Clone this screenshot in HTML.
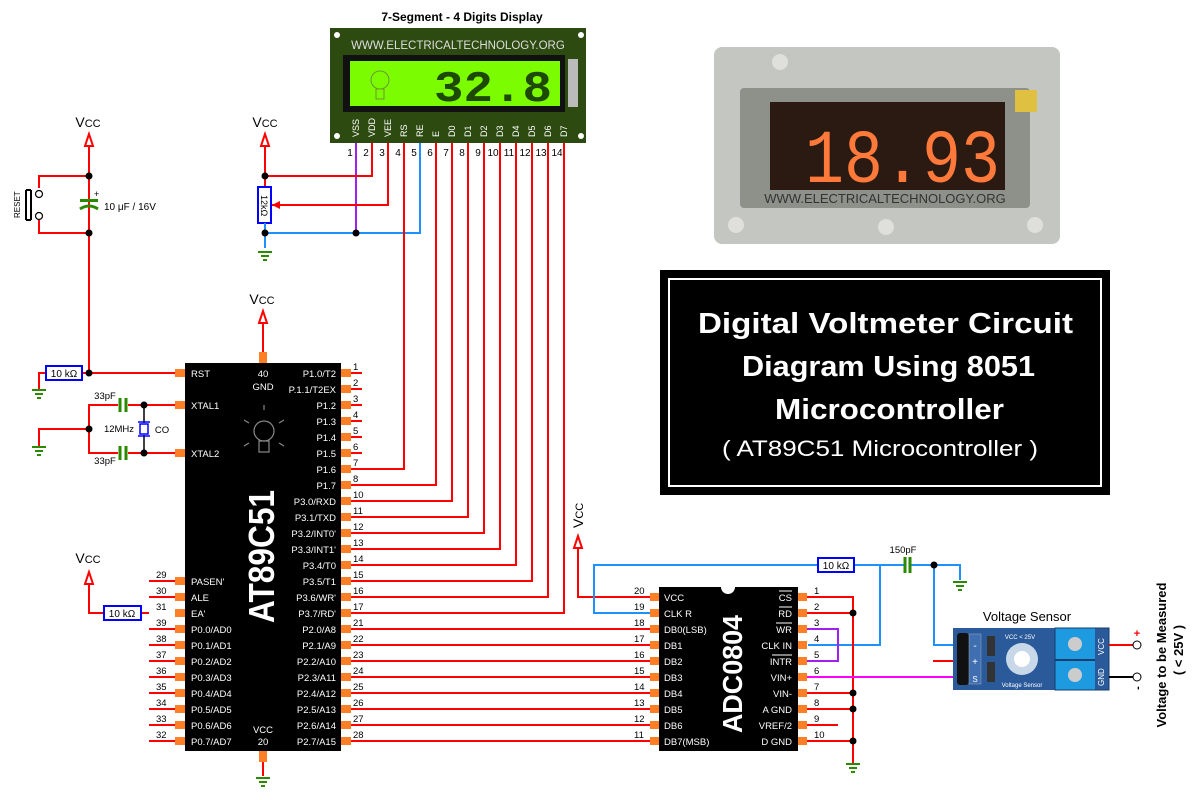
<!DOCTYPE html>
<html><head><meta charset="utf-8"><style>
html,body{margin:0;padding:0;background:#fff;width:1200px;height:800px;overflow:hidden}
svg{display:block;font-family:"Liberation Sans",sans-serif}
</style></head><body>
<svg width="1200" height="800" viewBox="0 0 1200 800" xmlns="http://www.w3.org/2000/svg">
<defs>
<g id="gnd"><line x1="-7" y1="0" x2="7" y2="0" stroke="#2a8a00" stroke-width="2"/><line x1="-4" y1="4" x2="4" y2="4" stroke="#2a8a00" stroke-width="2"/><line x1="-2" y1="8" x2="2" y2="8" stroke="#2a8a00" stroke-width="2"/></g>
<g id="vup"><path d="M0,0 L-4,12 L4,12 Z" fill="#fff" stroke="#f00" stroke-width="2"/></g>
</defs>

<!-- ===== LCD module ===== -->
<text x="462" y="21" font-size="12" font-weight="bold" text-anchor="middle">7-Segment - 4 Digits Display</text>
<rect x="330" y="28" width="256" height="115" fill="#2d4a10"/>
<circle cx="337" cy="35" r="3" fill="#fff"/><circle cx="581" cy="35" r="3" fill="#fff"/>
<circle cx="337" cy="136" r="3" fill="#fff"/><circle cx="581" cy="136" r="3" fill="#fff"/>
<text x="458" y="49" font-size="11.5" fill="#ddd" text-anchor="middle">WWW.ELECTRICALTECHNOLOGY.ORG</text>
<rect x="343" y="55" width="222" height="57" fill="#111"/>
<rect x="350" y="61" width="210" height="45" fill="#7cfc00"/>
<rect x="568" y="59" width="10" height="48" fill="#bbb"/>
<text x="434" y="101" font-size="44" font-weight="bold" fill="#1d4a00" font-family="Liberation Mono,monospace" textLength="118" lengthAdjust="spacingAndGlyphs">32.8</text>
<circle cx="380" cy="80" r="9" fill="none" stroke="#6a9a30"/><rect x="376" y="89" width="8" height="10" fill="none" stroke="#6a9a30"/>
<g font-size="9" fill="#fff">
<text transform="translate(359,137) rotate(-90)">VSS</text><text transform="translate(375,137) rotate(-90)">VDD</text>
<text transform="translate(391,137) rotate(-90)">VEE</text><text transform="translate(407,137) rotate(-90)">RS</text>
<text transform="translate(423,137) rotate(-90)">RE</text><text transform="translate(439,137) rotate(-90)">E</text>
<text transform="translate(455,137) rotate(-90)">D0</text><text transform="translate(471,137) rotate(-90)">D1</text>
<text transform="translate(487,137) rotate(-90)">D2</text><text transform="translate(503,137) rotate(-90)">D3</text>
<text transform="translate(519,137) rotate(-90)">D4</text><text transform="translate(535,137) rotate(-90)">D5</text>
<text transform="translate(551,137) rotate(-90)">D6</text><text transform="translate(567,137) rotate(-90)">D7</text>
</g>
<g font-size="10" text-anchor="middle">
<text x="350" y="156">1</text><text x="366" y="156">2</text><text x="382" y="156">3</text><text x="398" y="156">4</text><text x="414" y="156">5</text><text x="430" y="156">6</text><text x="446" y="156">7</text><text x="462" y="156">8</text><text x="478" y="156">9</text><text x="493" y="156">10</text><text x="509" y="156">11</text><text x="525" y="156">12</text><text x="541" y="156">13</text><text x="557" y="156">14</text>
</g>

<!-- LCD wires -->
<g fill="none" stroke-width="2">
<path d="M356,143 V233" stroke="#a020f0"/>
<path d="M372,143 V176 H265" stroke="#f00"/>
<path d="M388,143 V205 H272" stroke="#f00"/>
<path d="M420,143 V233 H265" stroke="#1e90ff"/>
<path d="M404,143 V469 H362" stroke="#f00"/>
<path d="M436,143 V485 H362" stroke="#f00"/>
<path d="M452,143 V501 H362" stroke="#f00"/>
<path d="M468,143 V517 H362" stroke="#f00"/>
<path d="M484,143 V533 H362" stroke="#f00"/>
<path d="M500,143 V549 H362" stroke="#f00"/>
<path d="M516,143 V565 H362" stroke="#f00"/>
<path d="M532,143 V581 H362" stroke="#f00"/>
<path d="M548,143 V597 H362" stroke="#f00"/>
<path d="M564,143 V613 H362" stroke="#f00"/>
</g>
<circle cx="356" cy="233" r="3.5" fill="#000"/>

<!-- pot section -->
<text x="265" y="127" font-size="14" text-anchor="middle">V<tspan font-size="11">CC</tspan></text>
<use href="#vup" x="265" y="134"/>
<path d="M265,146 V187" stroke="#f00" stroke-width="2"/>
<circle cx="265" cy="176" r="3.5" fill="#000"/>
<rect x="258" y="187" width="13" height="36" fill="#fff" stroke="#00f" stroke-width="2"/>
<text transform="translate(261,195) rotate(90)" font-size="9">12kΩ</text>
<path d="M272,205 l8,-4 v8 z" fill="#f00"/>
<path d="M265,223 V248" stroke="#1e90ff" stroke-width="2"/>
<circle cx="265" cy="233" r="3.5" fill="#000"/>
<use href="#gnd" x="265" y="252"/>

<!-- reset section -->
<text x="88" y="127" font-size="14" text-anchor="middle">V<tspan font-size="11">CC</tspan></text>
<use href="#vup" x="89" y="134"/>
<path d="M89,146 V373 H175" stroke="#f00" stroke-width="2" fill="none"/>
<path d="M89,176 H39 V188 M39,220 V233 H89" stroke="#f00" stroke-width="2" fill="none"/>
<circle cx="89" cy="176" r="3.5" fill="#000"/><circle cx="89" cy="233" r="3.5" fill="#000"/>
<circle cx="39" cy="194" r="3.5" fill="#fff" stroke="#000" stroke-width="1.2"/><circle cx="39" cy="216" r="3.5" fill="#fff" stroke="#000" stroke-width="1.2"/>
<path d="M31,190 V220 M26,190 H31 M26,220 H31 M26,190 V220" stroke="#000" stroke-width="2"/>
<text transform="translate(20,218) rotate(-90)" font-size="8">RESET</text>
<rect x="80" y="199" width="18" height="3" fill="#2a8a00"/>
<path d="M80,209 Q89,203 98,209" stroke="#2a8a00" stroke-width="3" fill="none"/>
<text x="94" y="197" font-size="9">+</text>
<text x="104" y="210" font-size="10">10 μF / 16V</text>

<!-- RST resistor -->
<path d="M39,390 V373 H89" stroke="#f00" stroke-width="2" fill="none"/>
<rect x="46" y="366" width="36" height="14" fill="#fff" stroke="#00f" stroke-width="2"/>
<text x="64" y="377" font-size="10" text-anchor="middle">10 kΩ</text>
<circle cx="89" cy="373" r="3.5" fill="#000"/>
<use href="#gnd" x="39" y="390"/>

<!-- crystal -->
<path d="M175,405 H89 V453 H175 M89,429 H39 V447" stroke="#f00" stroke-width="2" fill="none"/>
<rect x="118" y="398" width="10" height="14" fill="#fff"/><rect x="118" y="446" width="10" height="14" fill="#fff"/>
<path d="M120,398 V412 M126,398 V412 M120,446 V460 M126,446 V460" stroke="#2a8a00" stroke-width="3"/>
<path d="M144,405 V423 M144,435 V453" stroke="#000" stroke-width="1.5"/>
<rect x="140" y="424" width="8" height="10" fill="#fff" stroke="#00f" stroke-width="1.5"/>
<path d="M138,422 H150 M138,436 H150" stroke="#00f" stroke-width="1.5"/>
<circle cx="144" cy="405" r="3.5" fill="#000"/><circle cx="144" cy="453" r="3.5" fill="#000"/><circle cx="89" cy="429" r="3.5" fill="#000"/>
<use href="#gnd" x="39" y="447"/>
<text x="105" y="399" font-size="9.5" text-anchor="middle">33pF</text>
<text x="105" y="464" font-size="9.5" text-anchor="middle">33pF</text>
<text x="119" y="432" font-size="9.5" text-anchor="middle">12MHz</text>
<text x="162" y="433" font-size="9.5" text-anchor="middle">CO</text>

<!-- EA -->
<text x="88" y="563" font-size="14" text-anchor="middle">V<tspan font-size="11">CC</tspan></text>
<use href="#vup" x="89" y="572"/>
<path d="M89,584 V613 H149" stroke="#f00" stroke-width="2" fill="none"/>
<rect x="104" y="606" width="37" height="14" fill="#fff" stroke="#00f" stroke-width="2"/>
<text x="122" y="617" font-size="10" text-anchor="middle">10 kΩ</text>

<!-- MCU -->
<text x="262" y="304" font-size="14" text-anchor="middle">V<tspan font-size="11">CC</tspan></text>
<use href="#vup" x="263" y="311"/>
<path d="M263,323 V352" stroke="#f00" stroke-width="2"/>
<rect x="259" y="352" width="8" height="11" fill="#ff7f27"/>
<rect x="185" y="363" width="156" height="388" fill="#000"/>
<rect x="259" y="751" width="8" height="11" fill="#ff7f27"/>
<path d="M263,762 V776" stroke="#f00" stroke-width="2"/>
<use href="#gnd" x="263" y="778"/>
<g fill="#fff" font-size="9.5">
<text x="263" y="377" text-anchor="middle">40</text><text x="263" y="390" text-anchor="middle">GND</text>
<text x="263" y="733" text-anchor="middle">VCC</text><text x="263" y="745" text-anchor="middle">20</text>
<text transform="translate(274,623) rotate(-90)" font-size="36" font-weight="bold" textLength="133" lengthAdjust="spacingAndGlyphs">AT89C51</text>
</g>
<g stroke="#888" fill="none" stroke-width="1.2"><circle cx="264" cy="431" r="10"/><rect x="259" y="441" width="10" height="11"/><path d="M264,410 v-5 M249,423 l-5,-3 M279,423 l5,-3 M249,443 l-5,3 M279,443 l5,3"/></g>

<!-- MCU right pins -->
<g fill="#ff7f27">
<rect x="341" y="369" width="10" height="8"/><rect x="341" y="385" width="10" height="8"/><rect x="341" y="401" width="10" height="8"/><rect x="341" y="417" width="10" height="8"/><rect x="341" y="433" width="10" height="8"/><rect x="341" y="449" width="10" height="8"/><rect x="341" y="465" width="10" height="8"/><rect x="341" y="481" width="10" height="8"/><rect x="341" y="497" width="10" height="8"/><rect x="341" y="513" width="10" height="8"/><rect x="341" y="529" width="10" height="8"/><rect x="341" y="545" width="10" height="8"/><rect x="341" y="561" width="10" height="8"/><rect x="341" y="577" width="10" height="8"/><rect x="341" y="593" width="10" height="8"/><rect x="341" y="609" width="10" height="8"/><rect x="341" y="625" width="10" height="8"/><rect x="341" y="641" width="10" height="8"/><rect x="341" y="657" width="10" height="8"/><rect x="341" y="673" width="10" height="8"/><rect x="341" y="689" width="10" height="8"/><rect x="341" y="705" width="10" height="8"/><rect x="341" y="721" width="10" height="8"/><rect x="341" y="737" width="10" height="8"/>
<rect x="175" y="369" width="10" height="8"/><rect x="175" y="401" width="10" height="8"/><rect x="175" y="449" width="10" height="8"/>
<rect x="175" y="577" width="10" height="8"/><rect x="175" y="593" width="10" height="8"/><rect x="175" y="609" width="10" height="8"/><rect x="175" y="625" width="10" height="8"/><rect x="175" y="641" width="10" height="8"/><rect x="175" y="657" width="10" height="8"/><rect x="175" y="673" width="10" height="8"/><rect x="175" y="689" width="10" height="8"/><rect x="175" y="705" width="10" height="8"/><rect x="175" y="721" width="10" height="8"/><rect x="175" y="737" width="10" height="8"/>
</g>
<g stroke="#f00" stroke-width="2">
<path d="M351,373 H362 M351,389 H362 M351,405 H362 M351,421 H362 M351,437 H362 M351,453 H362 M351,469 H362 M351,485 H362 M351,501 H362 M351,517 H362 M351,533 H362 M351,549 H362 M351,565 H362 M351,581 H362 M351,597 H362 M351,613 H362"/>
<path d="M351,629 H650 M351,645 H650 M351,661 H650 M351,677 H650 M351,693 H650 M351,709 H650 M351,725 H650 M351,741 H650"/>
<path d="M149,581 H175 M149,597 H175 M149,629 H175 M149,645 H175 M149,661 H175 M149,677 H175 M149,693 H175 M149,709 H175 M149,725 H175 M149,741 H175"/>
</g>
<g fill="#fff" font-size="9.5" text-anchor="end">
<text x="336" y="377">P1.0/T2</text><text x="336" y="393">P.1.1/T2EX</text><text x="336" y="409">P1.2</text><text x="336" y="425">P1.3</text><text x="336" y="441">P1.4</text><text x="336" y="457">P1.5</text><text x="336" y="473">P1.6</text><text x="336" y="489">P1.7</text><text x="336" y="505">P3.0/RXD</text><text x="336" y="521">P3.1/TXD</text><text x="336" y="537">P3.2/INT0'</text><text x="336" y="553">P3.3/INT1'</text><text x="336" y="569">P3.4/T0</text><text x="336" y="585">P3.5/T1</text><text x="336" y="601">P3.6/WR'</text><text x="336" y="617">P3.7/RD'</text><text x="336" y="633">P2.0/A8</text><text x="336" y="649">P2.1/A9</text><text x="336" y="665">P2.2/A10</text><text x="336" y="681">P2.3/A11</text><text x="336" y="697">P2.4/A12</text><text x="336" y="713">P2.5/A13</text><text x="336" y="729">P2.6/A14</text><text x="336" y="745">P2.7/A15</text>
</g>
<g fill="#fff" font-size="9.5">
<text x="191" y="377">RST</text><text x="191" y="409">XTAL1</text><text x="191" y="457">XTAL2</text>
<text x="191" y="585">PASEN'</text><text x="191" y="601">ALE</text><text x="191" y="617">EA'</text><text x="191" y="633">P0.0/AD0</text><text x="191" y="649">P0.1/AD1</text><text x="191" y="665">P0.2/AD2</text><text x="191" y="681">P0.3/AD3</text><text x="191" y="697">P0.4/AD4</text><text x="191" y="713">P0.5/AD5</text><text x="191" y="729">P0.6/AD6</text><text x="191" y="745">P0.7/AD7</text>
</g>
<g font-size="9.5">
<text x="353" y="370">1</text><text x="353" y="386">2</text><text x="353" y="402">3</text><text x="353" y="418">4</text><text x="353" y="434">5</text><text x="353" y="450">6</text><text x="353" y="466">7</text><text x="353" y="482">8</text><text x="353" y="498">10</text><text x="353" y="514">11</text><text x="353" y="530">12</text><text x="353" y="546">13</text><text x="353" y="562">14</text><text x="353" y="578">15</text><text x="353" y="594">16</text><text x="353" y="610">17</text><text x="353" y="626">21</text><text x="353" y="642">22</text><text x="353" y="658">23</text><text x="353" y="674">24</text><text x="353" y="690">25</text><text x="353" y="706">26</text><text x="353" y="722">27</text><text x="353" y="738">28</text>
<text x="156" y="578">29</text><text x="156" y="594">30</text><text x="156" y="610">31</text><text x="156" y="626">39</text><text x="156" y="642">38</text><text x="156" y="658">37</text><text x="156" y="674">36</text><text x="156" y="690">35</text><text x="156" y="706">34</text><text x="156" y="722">33</text><text x="156" y="738">32</text>
</g>

<!-- ===== ADC ===== -->
<text transform="translate(583,528) rotate(-90)" font-size="14">V<tspan font-size="11">CC</tspan></text>
<path d="M578,536 l-4,12 h8 z" fill="#fff" stroke="#f00" stroke-width="2"/>
<path d="M578,548 V597 H650" stroke="#f00" stroke-width="2" fill="none"/>
<path d="M650,613 H594 V565 H818 M854,565 H904 M910,565 H960 V580 M880,565 V645 H808 M934,565 V645 H953" stroke="#1e90ff" stroke-width="2" fill="none"/>
<rect x="818" y="558" width="36" height="14" fill="#fff" stroke="#00f" stroke-width="2"/>
<text x="836" y="569" font-size="10" text-anchor="middle">10 kΩ</text>
<path d="M905,557 V573 M910,557 V573" stroke="#2a8a00" stroke-width="3"/>
<text x="903" y="553" font-size="9.5" text-anchor="middle">150pF</text>
<circle cx="934" cy="565" r="3.5" fill="#000"/>
<use href="#gnd" x="960" y="582"/>
<rect x="659" y="587" width="139" height="164" fill="#000"/>
<circle cx="728" cy="587" r="7" fill="#fff"/>
<text transform="translate(742,733) rotate(-90)" font-size="28" font-weight="bold" fill="#fff" textLength="118" lengthAdjust="spacingAndGlyphs">ADC0804</text>
<g fill="#ff7f27">
<rect x="650" y="593" width="9" height="8"/><rect x="650" y="609" width="9" height="8"/><rect x="650" y="625" width="9" height="8"/><rect x="650" y="641" width="9" height="8"/><rect x="650" y="657" width="9" height="8"/><rect x="650" y="673" width="9" height="8"/><rect x="650" y="689" width="9" height="8"/><rect x="650" y="705" width="9" height="8"/><rect x="650" y="721" width="9" height="8"/><rect x="650" y="737" width="9" height="8"/>
<rect x="798" y="593" width="9" height="8"/><rect x="798" y="609" width="9" height="8"/><rect x="798" y="625" width="9" height="8"/><rect x="798" y="641" width="9" height="8"/><rect x="798" y="657" width="9" height="8"/><rect x="798" y="673" width="9" height="8"/><rect x="798" y="689" width="9" height="8"/><rect x="798" y="705" width="9" height="8"/><rect x="798" y="721" width="9" height="8"/><rect x="798" y="737" width="9" height="8"/>
</g>
<g fill="#fff" font-size="9.5">
<text x="664" y="601">VCC</text><text x="664" y="617">CLK R</text><text x="664" y="633">DB0(LSB)</text><text x="664" y="649">DB1</text><text x="664" y="665">DB2</text><text x="664" y="681">DB3</text><text x="664" y="697">DB4</text><text x="664" y="713">DB5</text><text x="664" y="729">DB6</text><text x="664" y="745">DB7(MSB)</text>
</g>
<g fill="#fff" font-size="9.5" text-anchor="end">
<text x="792" y="601">CS</text><text x="792" y="617">RD</text><text x="792" y="633">WR</text><text x="792" y="649">CLK IN</text><text x="792" y="665">INTR</text><text x="792" y="681">VIN+</text><text x="792" y="697">VIN-</text><text x="792" y="713">A GND</text><text x="792" y="729">VREF/2</text><text x="792" y="745">D GND</text>
</g>
<path d="M779,591 h13 M779,607 h13 M776,623 h16 M772,655 h20" stroke="#fff" stroke-width="1"/>
<g font-size="9.5">
<text x="634" y="594">20</text><text x="634" y="610">19</text><text x="634" y="626">18</text><text x="634" y="642">17</text><text x="634" y="658">16</text><text x="634" y="674">15</text><text x="634" y="690">14</text><text x="634" y="706">13</text><text x="634" y="722">12</text><text x="634" y="738">11</text>
<text x="814" y="594">1</text><text x="814" y="610">2</text><text x="814" y="626">3</text><text x="814" y="642">4</text><text x="814" y="658">5</text><text x="814" y="674">6</text><text x="814" y="690">7</text><text x="814" y="706">8</text><text x="814" y="722">9</text><text x="814" y="738">10</text>
</g>
<path d="M807,597 H853 V763 M807,613 H853 M807,693 H853 M807,709 H853 M807,725 H838 M807,741 H853" stroke="#f00" stroke-width="2" fill="none"/>
<path d="M807,629 H838 V661 H807" stroke="#a020f0" stroke-width="2" fill="none"/>
<path d="M807,677 H953" stroke="#f0f" stroke-width="2"/>
<circle cx="853" cy="613" r="3.5" fill="#000"/><circle cx="853" cy="693" r="3.5" fill="#000"/><circle cx="853" cy="709" r="3.5" fill="#000"/><circle cx="853" cy="741" r="3.5" fill="#000"/>
<use href="#gnd" x="853" y="764"/>

<!-- Voltage sensor -->
<text x="1027" y="621" font-size="13" text-anchor="middle">Voltage Sensor</text>
<path d="M933,661 H953" stroke="#f00" stroke-width="2"/>
<rect x="953" y="628" width="156" height="62" fill="#2a5a9a"/>
<rect x="1055" y="628" width="40" height="62" fill="#1e9ae0"/>
<rect x="1055" y="628" width="54" height="62" fill="none" stroke="#163d6e" stroke-width="1"/>
<line x1="1055" y1="660" x2="1095" y2="660" stroke="#163d6e" stroke-width="2"/>
<rect x="957" y="633" width="12" height="52" rx="3" fill="#111"/>
<rect x="969" y="634" width="12" height="50" fill="#3f6fb0" stroke="#9ab" stroke-width="0.5"/>
<text x="975" y="649" fill="#fff" font-size="10" text-anchor="middle">-</text><text x="975" y="665" fill="#fff" font-size="10" text-anchor="middle">+</text><text x="975" y="682" fill="#fff" font-size="8" text-anchor="middle">S</text>
<rect x="987" y="636" width="8" height="20" fill="#333"/><rect x="987" y="662" width="8" height="20" fill="#333"/>
<circle cx="1022" cy="659" r="16" fill="#c8d8e8"/><circle cx="1022" cy="659" r="8" fill="#fff"/>
<circle cx="1075" cy="644" r="7" fill="#ccc"/><circle cx="1075" cy="675" r="7" fill="#ccc"/>
<text x="1020" y="639" font-size="6" fill="#fff" text-anchor="middle">VCC &lt; 25V</text>
<text x="1022" y="687" font-size="6" fill="#fff" text-anchor="middle">Voltage Sensor</text>
<text transform="translate(1104,655) rotate(-90)" font-size="8" fill="#fff">VCC</text>
<text transform="translate(1104,686) rotate(-90)" font-size="8" fill="#fff">GND</text>
<path d="M1109,645 H1133" stroke="#f00" stroke-width="2"/><path d="M1109,677 H1133" stroke="#000" stroke-width="2"/>
<circle cx="1137" cy="645" r="4" fill="#fff" stroke="#000"/><circle cx="1137" cy="677" r="4" fill="#fff" stroke="#000"/>
<text x="1137" y="637" font-size="11" font-weight="bold" fill="#f00" text-anchor="middle">+</text>
<text transform="translate(1141,688) rotate(-90)" font-size="11" font-weight="bold" text-anchor="middle">-</text>
<text transform="translate(1166,655) rotate(-90)" font-size="13" font-weight="bold" text-anchor="middle">Voltage to be Measured</text>
<text transform="translate(1183,650) rotate(-90)" font-size="13" font-weight="bold" text-anchor="middle">( &lt; 25V )</text>

<!-- photo -->
<rect x="714" y="47" width="346" height="197" rx="8" fill="#c4c6c1"/>
<rect x="740" y="88" width="290" height="120" rx="4" fill="#8e918a"/>
<rect x="770" y="102" width="235" height="88" fill="#2a1a12"/>
<text x="805" y="182" font-size="76" fill="#ff7a3a" font-family="Liberation Mono,monospace" textLength="195" lengthAdjust="spacingAndGlyphs">18.93</text>
<text x="885" y="203" font-size="13" fill="#333" text-anchor="middle">WWW.ELECTRICALTECHNOLOGY.ORG</text>
<circle cx="780" cy="62" r="8" fill="#dfe0dc"/><circle cx="736" cy="225" r="8" fill="#dfe0dc"/><circle cx="886" cy="227" r="8" fill="#dfe0dc"/><circle cx="1035" cy="225" r="8" fill="#dfe0dc"/>
<rect x="1015" y="90" width="22" height="22" fill="#e0c040"/>

<!-- Title box -->
<rect x="660" y="270" width="450" height="225" fill="#000"/>
<rect x="669" y="279" width="432" height="207" fill="none" stroke="#fff" stroke-width="2"/>
<g fill="#fff" font-weight="bold">
<text x="698" y="333" font-size="29" textLength="375" lengthAdjust="spacingAndGlyphs">Digital  Voltmeter  Circuit</text>
<text x="742" y="376" font-size="29" textLength="293" lengthAdjust="spacingAndGlyphs">Diagram Using 8051</text>
<text x="775" y="419" font-size="29" textLength="229" lengthAdjust="spacingAndGlyphs">Microcontroller</text>
<text x="722" y="456" font-size="22" font-weight="normal" textLength="316" lengthAdjust="spacingAndGlyphs">( AT89C51  Microcontroller )</text>
</g>
</svg>
</body></html>
